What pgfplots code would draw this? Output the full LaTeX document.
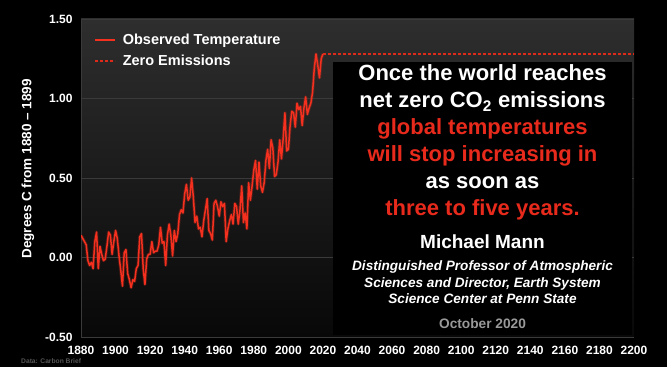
\documentclass[border=0pt]{standalone}
\usepackage{pgfplots}
\pgfplotsset{compat=1.18}
\usepackage{pgfplotstable}
\usepackage{fontspec}
\setmainfont{Liberation Sans}
\definecolor{obsred}{RGB}{245,48,30}
\definecolor{txtred}{RGB}{232,42,28}
\definecolor{bgtop}{RGB}{46,46,46}
\definecolor{bgbot}{RGB}{8,8,8}
\definecolor{gridc}{RGB}{58,58,58}
\pgfplotstableread{
year temp
1880 0.14
1881 0.12
1882 0.10
1883 0.08
1884 -0.02
1885 -0.05
1886 -0.03
1887 -0.07
1888 0.10
1889 0.16
1890 -0.07
1891 0.07
1892 0.02
1893 -0.02
1894 -0.01
1895 0.07
1896 0.16
1897 0.14
1898 0.02
1899 0.10
1900 0.17
1901 0.12
1902 0.01
1903 -0.08
1904 -0.18
1905 0.03
1906 0.05
1907 -0.10
1908 -0.14
1909 -0.19
1910 -0.14
1911 -0.15
1912 -0.07
1913 -0.05
1914 0.13
1915 0.15
1916 -0.07
1917 -0.17
1918 -0.01
1919 0.02
1920 0.02
1921 0.10
1922 0.03
1923 0.04
1924 0.04
1925 0.08
1926 0.19
1927 0.09
1928 0.10
1929 -0.05
1930 0.14
1931 0.21
1932 0.14
1933 0.01
1934 0.17
1935 0.10
1936 0.15
1937 0.27
1938 0.30
1939 0.28
1940 0.40
1941 0.46
1942 0.36
1943 0.38
1944 0.50
1945 0.38
1946 0.22
1947 0.26
1948 0.18
1949 0.19
1950 0.13
1951 0.23
1952 0.30
1953 0.37
1954 0.17
1955 0.15
1956 0.11
1957 0.34
1958 0.36
1959 0.32
1960 0.26
1961 0.35
1962 0.32
1963 0.34
1964 0.10
1965 0.18
1966 0.23
1967 0.27
1968 0.21
1969 0.34
1970 0.32
1971 0.21
1972 0.30
1973 0.45
1974 0.22
1975 0.28
1976 0.18
1977 0.47
1978 0.36
1979 0.45
1980 0.55
1981 0.61
1982 0.43
1983 0.60
1984 0.45
1985 0.41
1986 0.47
1987 0.61
1988 0.68
1989 0.56
1990 0.74
1991 0.69
1992 0.51
1993 0.52
1994 0.60
1995 0.74
1996 0.62
1997 0.75
1998 0.91
1999 0.67
2000 0.68
2001 0.83
2002 0.92
2003 0.91
2004 0.82
2005 0.97
2006 0.93
2007 0.95
2008 0.83
2009 0.94
2010 1.01
2011 0.90
2012 0.94
2013 0.97
2014 1.04
2015 1.19
2016 1.28
2017 1.21
2018 1.13
2019 1.25
2020 1.28
}\obsdata
\pgfplotstableread{
year temp
2020 1.28
2200 1.28
}\zerodata
\begin{document}
\begin{tikzpicture}[x=1pt,y=1pt]
\useasboundingbox (0pt,0pt) rectangle (667pt,367pt);
\fill[black] (0pt,0pt) rectangle (667pt,367pt);
\begin{axis}[
  at={(81pt,30pt)}, anchor=south west,
  width=553pt, height=318pt, scale only axis,
  xmin=1880, xmax=2200, ymin=-0.5, ymax=1.5,
  xtick={1880,1900,...,2200},
  ytick={-0.5,0,0.5,1,1.5},
  /pgf/number format/assume math mode=true,
  xticklabel style={font=\fontsize{12}{14}\selectfont\bfseries, text=white, /pgf/number format/1000 sep={}, yshift=-6pt},
  yticklabel style={font=\fontsize{12}{14}\selectfont\bfseries, text=white, xshift=-5pt, /pgf/number format/fixed, /pgf/number format/fixed zerofill, /pgf/number format/precision=2},
  major tick length=0pt,
  axis background/.style={top color=bgtop, bottom color=bgbot},
  ymajorgrids, grid style={draw=gridc, line width=0.7pt},
  axis x line*=bottom, axis y line*=left,
  axis line style={-, draw=gridc, line width=0.8pt},
  legend style={at={(axis description cs:0,1)}, anchor=north west, xshift=10pt, yshift=-11pt,
    draw=none, fill=none, text=white, font=\fontsize{14.5}{17}\selectfont\bfseries,
    row sep=5pt, cells={anchor=west},
    /tikz/every odd column/.append style={column sep=5pt}},
  legend image code/.code={\draw[#1] (0pt,0pt) -- (20pt,0pt);},
]
\addplot[obsred, line width=3.2pt, opacity=0.25, line join=round, forget plot] table[x=year,y=temp]{\obsdata};
\addplot[obsred, line width=1.5pt, line join=round] table[x=year,y=temp]{\obsdata};
\addlegendentry{Observed Temperature}
\addplot[obsred!90!black, line width=1.6pt, dash pattern=on 3pt off 2pt] table[x=year,y=temp]{\zerodata};
\addlegendentry{Zero Emissions}
\end{axis}
\fill[black] (333pt,32pt) rectangle (632pt,305pt);
\begin{scope}[every node/.style={anchor=base, inner sep=0pt}]
\node[text=white, font=\fontsize{22}{26}\selectfont\bfseries] at (482.5pt,286pt) {Once the world reaches};
\node[text=white, font=\fontsize{22}{26}\selectfont\bfseries] at (482.5pt,259pt) {net zero CO\textsubscript{2} emissions};
\node[text=txtred, font=\fontsize{22}{26}\selectfont\bfseries] at (482.5pt,232pt) {global temperatures};
\node[text=txtred, font=\fontsize{22}{26}\selectfont\bfseries] at (482.5pt,205pt) {will stop increasing in};
\node[text=white, font=\fontsize{22}{26}\selectfont\bfseries] at (482.5pt,178pt) {as soon as};
\node[text=txtred, font=\fontsize{22}{26}\selectfont\bfseries] at (482.5pt,151pt) {three to five years.};
\node[text=white, font=\fontsize{19}{22}\selectfont\bfseries] at (482.5pt,118pt) {Michael Mann};
\node[text=white, font=\fontsize{13.6}{16}\selectfont\bfseries\itshape] at (482.5pt,96.3pt) {Distinguished Professor of Atmospheric};
\node[text=white, font=\fontsize{13.6}{16}\selectfont\bfseries\itshape] at (482.5pt,79.7pt) {Sciences and Director, Earth System};
\node[text=white, font=\fontsize{13.6}{16}\selectfont\bfseries\itshape] at (482.5pt,63pt) {Science Center at Penn State};
\node[text=white!60!black, font=\fontsize{13.7}{16}\selectfont\bfseries] at (482.5pt,38.7pt) {October 2020};
\end{scope}
\node[rotate=90, text=white, font=\fontsize{13.5}{16}\selectfont\bfseries, inner sep=0pt] at (28pt,198pt) {Degrees C from 1880 -- 1899};
\node[anchor=base west, inner sep=0pt, text=white!33!black, font=\fontsize{6.7}{8}\selectfont\bfseries] at (21pt,3.6pt) {Data: Carbon Brief};
\end{tikzpicture}
\end{document}
